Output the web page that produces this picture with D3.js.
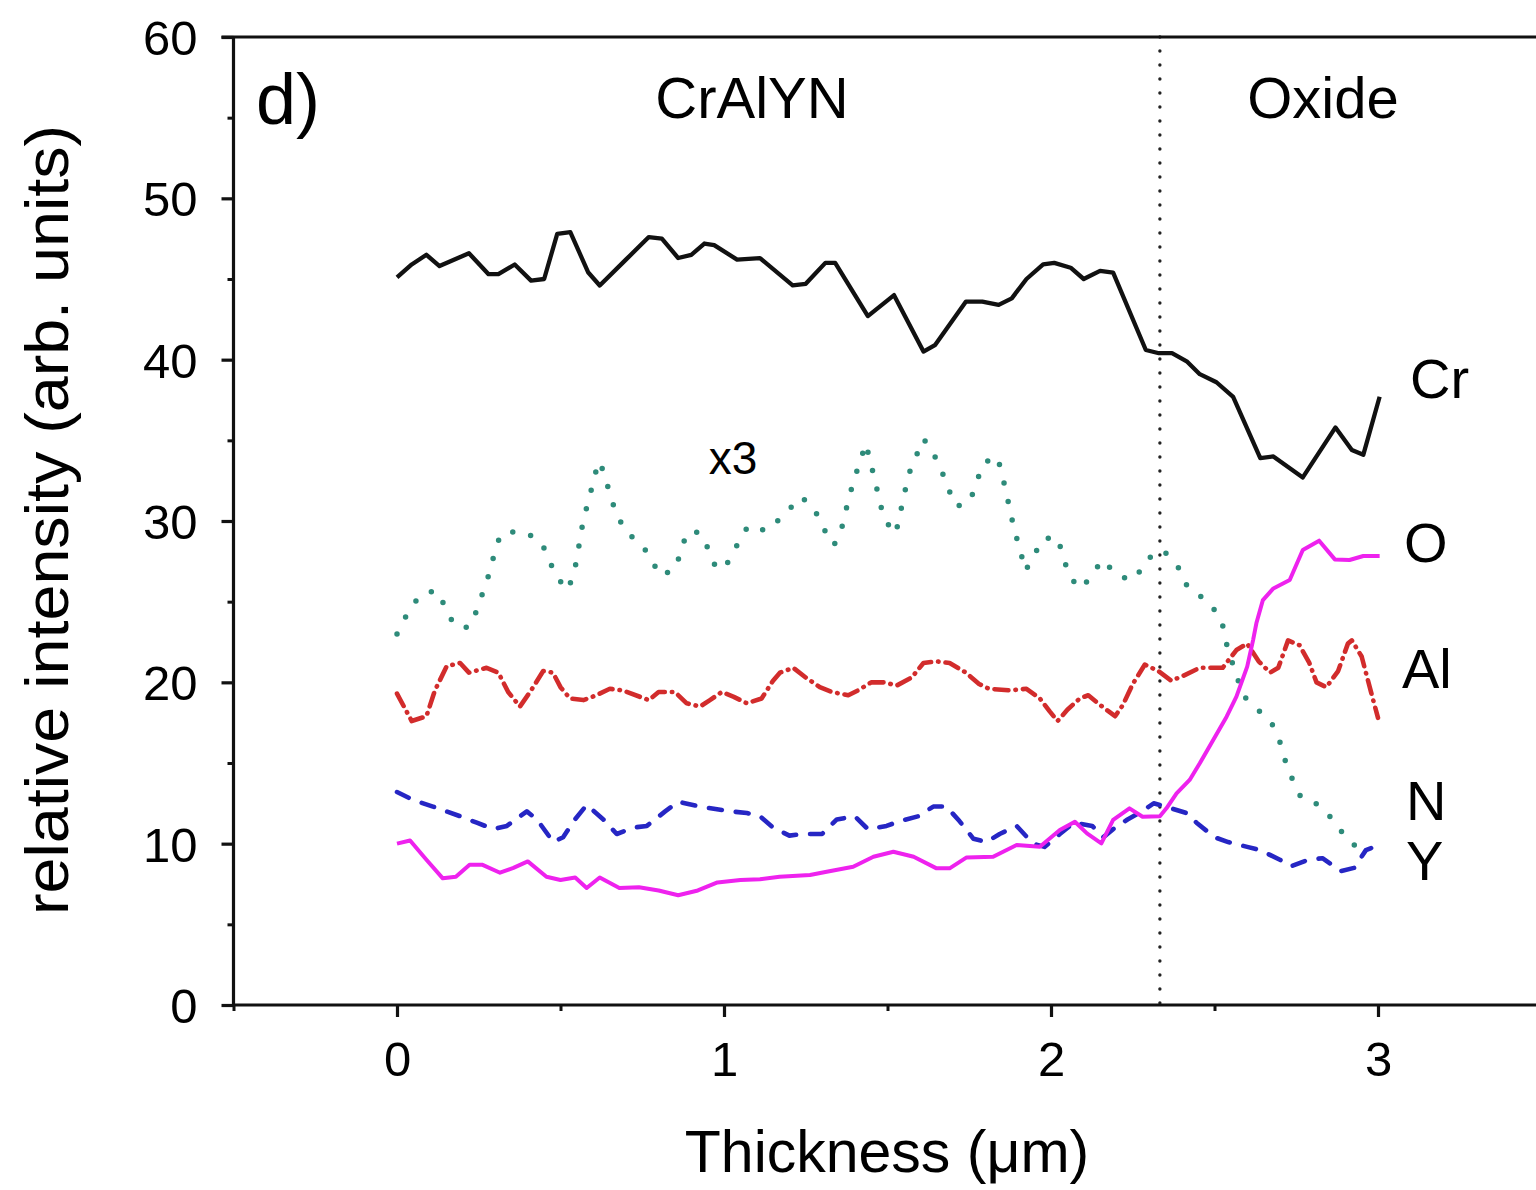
<!DOCTYPE html>
<html><head><meta charset="utf-8">
<script src="https://cdn.jsdelivr.net/npm/d3@7"></script>
<style>body{margin:0;background:#fff}svg{display:block}text{font-family:"Liberation Sans",Arial,sans-serif;fill:#000}</style>
</head><body><svg id="c" width="1536" height="1190"></svg>
<script>
// ---- data ----
const crX = [0,0.045,0.09,0.13,0.22,0.28,0.31,0.36,0.41,0.45,0.49,0.53,0.585,0.62,0.70,0.77,0.81,0.86,0.90,0.94,0.97,1.04,1.11,1.21,1.25,1.31,1.34,1.44,1.52,1.61,1.645,1.74,1.79,1.84,1.88,1.925,1.976,2.01,2.06,2.10,2.15,2.19,2.29,2.33,2.37,2.415,2.455,2.506,2.557,2.64,2.68,2.77,2.87,2.92,2.955,3.005];
const crY = [45.1,45.9,46.5,45.8,46.6,45.3,45.3,45.9,44.9,45.0,47.8,47.9,45.4,44.6,46.2,47.6,47.5,46.3,46.5,47.2,47.1,46.2,46.3,44.6,44.7,46.0,46.0,42.7,44.0,40.5,40.9,43.6,43.6,43.4,43.8,45.0,45.9,46.0,45.7,45.0,45.5,45.4,40.6,40.4,40.4,39.9,39.1,38.6,37.7,33.9,34.0,32.7,35.8,34.4,34.1,37.7];

const x3X = [0,0.03,0.07,0.12,0.15,0.175,0.22,0.245,0.263,0.283,0.298,0.317,0.376,0.43,0.46,0.48,0.52,0.54,0.55,0.56,0.57,0.585,0.60,0.616,0.634,0.65,0.67,0.70,0.746,0.776,0.804,0.85,0.87,0.886,0.924,0.954,0.977,1.008,1.04,1.074,1.13,1.186,1.234,1.273,1.30,1.335,1.353,1.368,1.38,1.397,1.416,1.434,1.447,1.462,1.475,1.49,1.525,1.538,1.551,1.563,1.585,1.61,1.635,1.662,1.686,1.71,1.752,1.772,1.794,1.836,1.85,1.864,1.876,1.89,1.907,1.921,1.947,1.974,2.02,2.037,2.056,2.088,2.127,2.154,2.214,2.258,2.29,2.343,2.39,2.42,2.476,2.522,2.532,2.567,2.592,2.628,2.674,2.70,2.717,2.738,2.766,2.82,2.87,2.91,2.96];
const x3Y = [23.0,24.2,25.4,25.7,24.6,23.5,23.4,24.5,25.6,26.8,28.0,29.2,29.4,28.9,28.0,26.8,25.7,26.6,27.7,28.9,30.1,31.2,32.4,33.7,33.0,31.7,30.5,29.3,28.6,27.7,26.6,27.0,28.2,29.3,29.3,28.2,27.0,27.3,28.5,29.7,29.4,30.4,31.5,30.9,29.7,28.5,29.0,30.2,31.3,32.5,33.7,34.8,33.7,32.5,31.3,30.1,29.2,30.4,31.6,32.8,33.9,35.1,34.4,33.3,32.0,30.9,31.2,32.4,33.6,34.0,32.9,31.7,30.5,29.3,28.1,26.9,27.8,28.9,29.0,27.8,26.6,25.8,26.6,27.6,26.5,26.4,27.6,28.2,27.1,25.8,25.1,23.9,22.7,20.4,19.1,18.4,17.5,16.3,15.1,14.0,12.8,12.4,11.3,10.1,9.6];

const alX = [0,0.045,0.09,0.116,0.152,0.193,0.22,0.274,0.31,0.34,0.376,0.41,0.447,0.477,0.50,0.529,0.57,0.61,0.651,0.69,0.77,0.80,0.85,0.886,0.927,0.957,0.993,1.03,1.07,1.115,1.15,1.171,1.212,1.25,1.293,1.33,1.38,1.41,1.45,1.49,1.528,1.574,1.61,1.65,1.69,1.74,1.78,1.81,1.874,1.925,1.966,1.996,2.02,2.05,2.088,2.114,2.15,2.196,2.22,2.25,2.287,2.328,2.368,2.404,2.455,2.49,2.525,2.567,2.60,2.635,2.67,2.695,2.725,2.76,2.79,2.812,2.842,2.878,2.908,2.92,2.95,2.98,3.0];
const alY = [19.3,17.6,17.9,19.5,21.0,21.2,20.6,20.9,20.6,19.4,18.5,19.5,20.7,20.6,19.7,19.0,18.9,19.2,19.6,19.5,18.9,19.4,19.4,18.7,18.5,18.9,19.4,19.1,18.7,19.0,20.1,20.6,20.9,20.3,19.7,19.4,19.2,19.5,20.0,20.0,19.8,20.3,21.2,21.3,21.2,20.6,19.9,19.6,19.5,19.6,19.0,18.2,17.6,18.3,19.0,19.2,18.6,17.9,18.6,19.9,21.1,20.7,20.1,20.4,20.9,20.9,20.9,22.0,22.4,21.3,20.6,20.9,22.6,22.3,21.2,20.0,19.7,20.7,22.4,22.6,21.6,19.3,17.8];

const nX = [0,0.05,0.11,0.193,0.244,0.295,0.336,0.397,0.428,0.478,0.508,0.544,0.58,0.631,0.672,0.723,0.764,0.82,0.86,0.927,1.02,1.07,1.11,1.15,1.2,1.24,1.3,1.345,1.4,1.44,1.497,1.538,1.594,1.64,1.68,1.72,1.763,1.803,1.843,1.895,1.945,1.98,2.027,2.07,2.126,2.16,2.19,2.234,2.27,2.314,2.35,2.414,2.445,2.5,2.542,2.6,2.64,2.70,2.735,2.786,2.83,2.886,2.927,2.963,3.0];
const nY = [13.2,12.7,12.3,11.7,11.3,10.9,11.1,12.0,11.5,10.1,10.4,11.5,12.4,11.5,10.6,11.0,11.1,12.0,12.6,12.3,12.0,11.9,11.7,11.0,10.5,10.6,10.6,11.5,11.7,10.9,11.1,11.4,11.7,12.3,12.3,11.4,10.3,10.1,10.6,11.1,10.0,9.8,10.6,11.3,11.1,10.4,10.9,11.5,11.9,12.5,12.3,11.9,11.3,10.4,10.1,9.8,9.6,9.0,8.6,9.0,9.1,8.3,8.5,9.6,9.9];

const oX = [0,0.04,0.09,0.14,0.18,0.222,0.26,0.315,0.356,0.4,0.457,0.50,0.545,0.58,0.62,0.68,0.74,0.80,0.86,0.92,0.98,1.05,1.11,1.17,1.263,1.314,1.395,1.457,1.518,1.58,1.65,1.69,1.742,1.823,1.895,1.966,2.027,2.073,2.11,2.154,2.19,2.24,2.28,2.333,2.353,2.384,2.424,2.455,2.496,2.537,2.567,2.6,2.618,2.628,2.648,2.68,2.73,2.77,2.82,2.868,2.913,2.955,3.005];
const oY = [10.0,10.2,9.0,7.85,7.95,8.7,8.7,8.2,8.5,8.9,7.95,7.75,7.9,7.25,7.9,7.25,7.3,7.1,6.8,7.1,7.6,7.75,7.8,7.95,8.06,8.26,8.57,9.19,9.5,9.19,8.47,8.47,9.15,9.19,9.92,9.81,10.85,11.36,10.64,10.02,11.47,12.19,11.67,11.7,12.19,13.12,13.95,14.98,16.43,17.87,19.11,20.97,22.62,23.66,25.1,25.82,26.34,28.2,28.78,27.62,27.58,27.83,27.83];

const xTicks = [0,1,2,3];
const yTicks = [0,10,20,30,40,50,60];
const interfaceX = 2.333;

// ---- chart ----
const svg = d3.select("#c");
const x = d3.scaleLinear().domain([-0.5,3.5]).range([233.5,1541.5]);
const y = d3.scaleLinear().domain([0,60]).range([1005,37]);
const L = x(-0.5), R = x(3.5), B = y(0), T = y(60);
const FONT = "Liberation Sans, Arial, sans-serif";

function draw(xs, ys, color, width, dash, cap){
  const pts = xs.map((d,i)=>[d, ys[i]]);
  svg.append("path").datum(pts)
    .attr("d", d3.line().x(d=>x(d[0])).y(d=>y(d[1])))
    .attr("fill","none").attr("stroke",color).attr("stroke-width",width)
    .attr("stroke-linejoin","round").attr("stroke-linecap",cap||"butt")
    .attr("stroke-dasharray",dash||null);
}

// interface line
svg.append("line").attr("x1",x(interfaceX)).attr("x2",x(interfaceX)).attr("y1",y(60)).attr("y2",B)
  .attr("stroke","#222").attr("stroke-width",3.4).attr("stroke-dasharray","0 14").attr("stroke-linecap","round");

draw(x3X, x3Y, "#2e8b7a", 5.5, "0 19", "round");
draw(alX, alY, "#d22c2c", 4.6, "14 7 0.5 7", "round");
draw(nX, nY, "#2626c4", 4.6, "13 14", "round");
draw(oX, oY, "#ee22ee", 4);
draw(crX, crY, "#111", 4.3);

// axes
const ax = svg.append("g").attr("stroke","#111").attr("stroke-width",3.2);
ax.append("line").attr("x1",L).attr("x2",R).attr("y1",B).attr("y2",B);
ax.append("line").attr("x1",L).attr("x2",L).attr("y1",B).attr("y2",T);
ax.append("line").attr("x1",L-12).attr("x2",R).attr("y1",T).attr("y2",T);

const yAxis = d3.axisLeft(y).tickValues(yTicks).tickSize(12).tickFormat(d3.format("d"));
const gy = svg.append("g").attr("transform",`translate(${L},0)`).call(yAxis);
gy.select(".domain").remove();
gy.selectAll(".tick line").attr("stroke","#111").attr("stroke-width",3.2);
gy.selectAll(".tick text").attr("font-size",49).attr("x",-36).attr("dy","0.36em").style("font-family",FONT);
const gym = svg.append("g").attr("transform",`translate(${L},0)`).call(d3.axisLeft(y).tickValues(d3.range(5,60,10)).tickSize(6).tickFormat(""));
gym.select(".domain").remove();
gym.selectAll(".tick line").attr("stroke","#111").attr("stroke-width",3);

const xAxis = d3.axisBottom(x).tickValues(xTicks).tickSize(12).tickFormat(d3.format("d"));
const gx = svg.append("g").attr("transform",`translate(0,${B})`).call(xAxis);
gx.select(".domain").remove();
gx.selectAll(".tick line").attr("stroke","#111").attr("stroke-width",3.2);
gx.selectAll(".tick text").attr("font-size",49).attr("y",36).attr("dy","0.71em").style("font-family",FONT);
const gxm = svg.append("g").attr("transform",`translate(0,${B})`).call(d3.axisBottom(x).tickValues([-0.5,0.5,1.5,2.5]).tickSize(6).tickFormat(""));
gxm.select(".domain").remove();
gxm.selectAll(".tick line").attr("stroke","#111").attr("stroke-width",3);

// titles
svg.append("text").attr("x",887).attr("y",1172).attr("text-anchor","middle").attr("font-size",59).text("Thickness (μm)");
svg.append("text").attr("transform","translate(68,520) rotate(-90)").attr("text-anchor","middle").attr("font-size",62).attr("textLength",790).attr("lengthAdjust","spacingAndGlyphs").text("relative intensity (arb. units)");

// annotations
svg.append("text").attr("x",256).attr("y",124).attr("font-size",72).text("d)");
svg.append("text").attr("x",752).attr("y",118).attr("text-anchor","middle").attr("font-size",58).text("CrAlYN");
svg.append("text").attr("x",733).attr("y",474).attr("text-anchor","middle").attr("font-size",46).text("x3");
svg.append("text").attr("x",1323).attr("y",118).attr("text-anchor","middle").attr("font-size",58).text("Oxide");
const labels = [["Cr",1410,398],["O",1404,562],["Al",1402,688],["N",1406,820],["Y",1406,880]];
labels.forEach(l=>svg.append("text").attr("x",l[1]).attr("y",l[2]).attr("font-size",56).text(l[0]));
</script></body></html>
